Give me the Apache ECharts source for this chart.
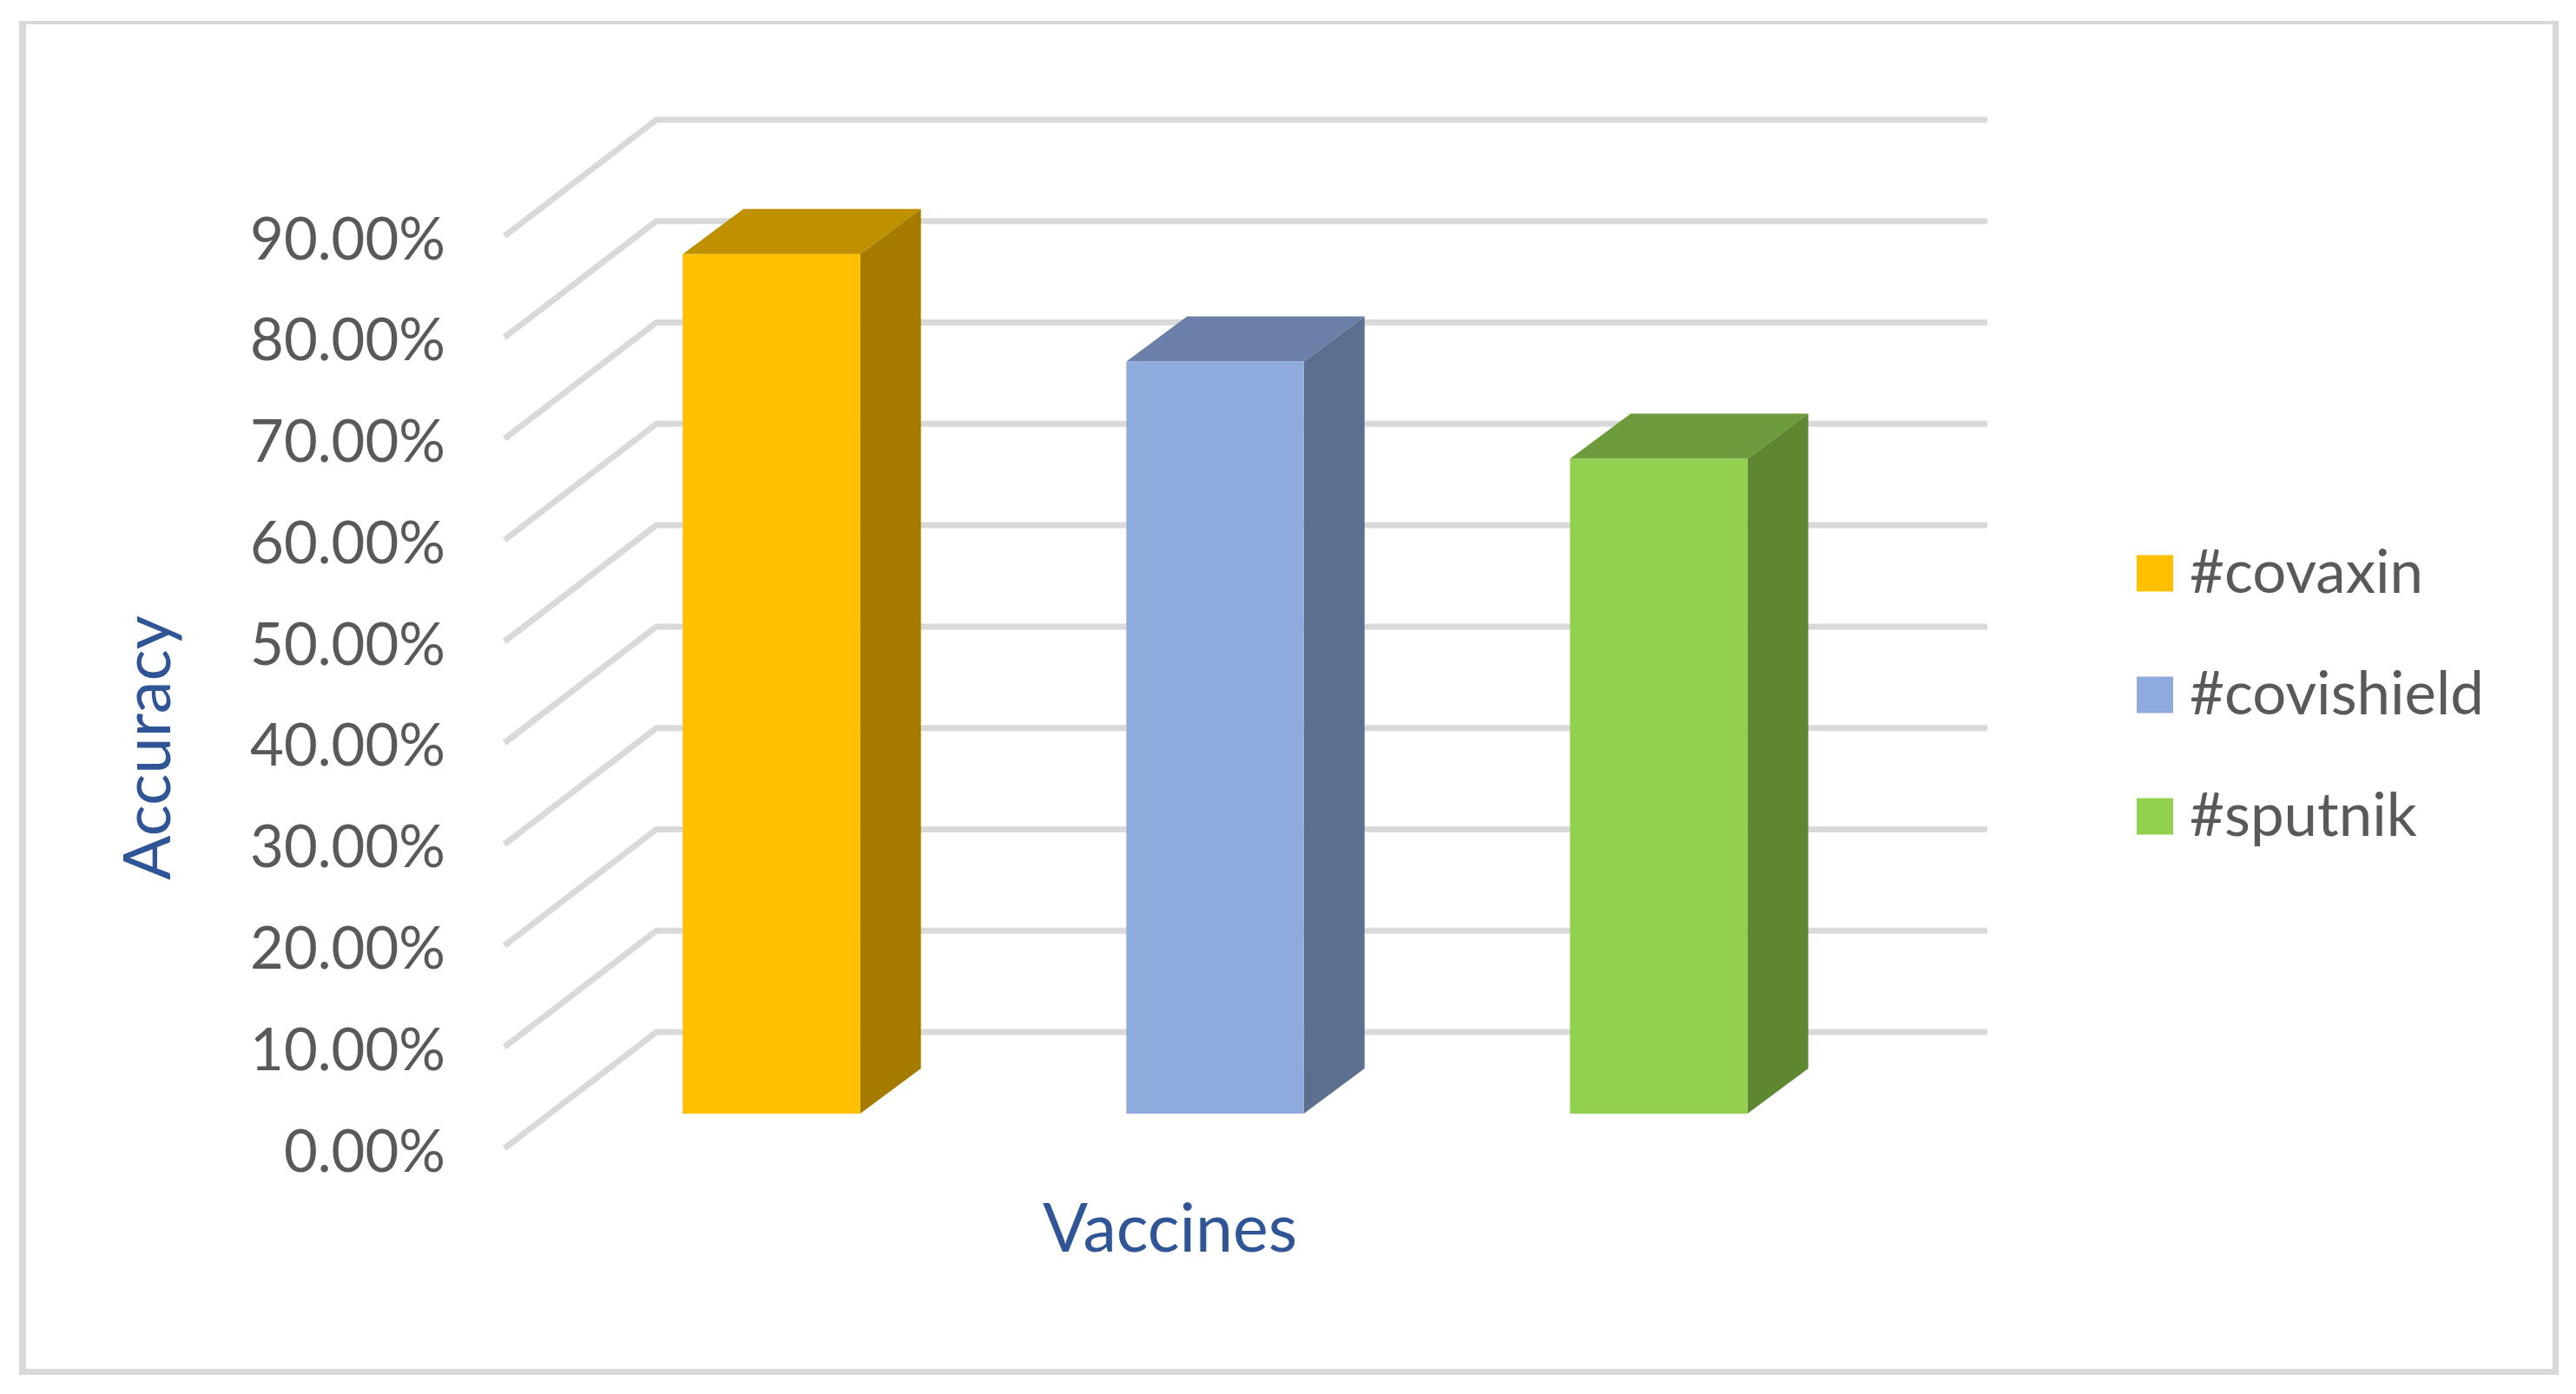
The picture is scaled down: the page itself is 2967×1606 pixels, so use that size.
<!DOCTYPE html>
<html>
<head>
<meta charset="utf-8">
<title>Accuracy of vaccines</title>
<script src="https://cdn.jsdelivr.net/npm/echarts@6/dist/echarts.min.js"></script>
<style>
  html, body { margin: 0; padding: 0; background: #fff; }
  #main { width: 2967px; height: 1606px; }
</style>
</head>
<body>
<div id="main"></div>
<script>
// data
var categories = ['Vaccines'];
var seriesNames = ['#covaxin', '#covishield', '#sputnik'];
var covaxin = [84.8];
var covishield = [74.2];
var sputnik = [64.6];
var tickValues = [0, 10, 20, 30, 40, 50, 60, 70, 80, 90];

// colours of each bar: front, side, top
var faces = [
    { front: '#ffc000', side: '#a67c00', top: '#bf9000' },
    { front: '#8faadc', side: '#5d6f8f', top: '#6b80a8' },
    { front: '#92d050', side: '#5f8732', top: '#6e9c3c' }
];

// 3d look of the excel chart, in pixels
var wallDx = 175, wallDy = 134;   // floor depth
var barFloorDx = 52, barFloorDy = 40;  // where the bars stand on the floor
var barDx = 70, barDy = 52;  // depth of a bar

var textFont = 'Lato';
var textColor = '#595959';
var titleColor = '#2f5597';
var frameColor = '#d9d9d9';

function renderGridLine(params, api) {
    var p = api.coord([0, api.value(0)]);
    var size = api.size([1, 0]);
    var x0 = p[0] - size[0] / 2;
    return {
        type: 'polyline',
        shape: {
            points: [
                [x0, p[1]],
                [x0 + wallDx, p[1] - wallDy],
                [x0 + size[0] + wallDx, p[1] - wallDy]
            ]
        },
        style: { fill: null, stroke: frameColor, lineWidth: 7 },
        silent: true
    };
}

function makeBarRender(idx) {
    return function (params, api) {
        var top = api.coord([api.value(0), api.value(1)]);
        var base = api.coord([api.value(0), 0]);
        var band = api.size([1, 0])[0];
        var w = band / 3 / 2.5;
        var cx = top[0] + (idx - 1) * band / 3 + barFloorDx;
        var l = cx - w / 2, r = cx + w / 2;
        var yt = top[1] - barFloorDy, yb = base[1] - barFloorDy;
        var c = faces[idx];
        return {
            type: 'group',
            children: [
                { type: 'polygon', shape: { points: [[r, yt], [r + barDx, yt - barDy], [r + barDx, yb - barDy], [r, yb]] }, style: { fill: c.side } },
                { type: 'polygon', shape: { points: [[l, yt], [l + barDx, yt - barDy], [r + barDx, yt - barDy], [r, yt]] }, style: { fill: c.top } },
                { type: 'rect', shape: { x: l, y: yt, width: w, height: yb - yt }, style: { fill: c.front } }
            ]
        };
    };
}

var barValues = [covaxin, covishield, sputnik];
var seriesList = [{
    name: 'gridlines',
    type: 'custom',
    renderItem: renderGridLine,
    encode: { y: 0 },
    data: tickValues.map(function (v) { return [v]; }),
    clip: false,
    silent: true,
    z: 1
}];
seriesNames.forEach(function (name, i) {
    seriesList.push({
        name: name,
        type: 'custom',
        renderItem: makeBarRender(i),
        encode: { x: 0, y: 1 },
        data: categories.map(function (c, k) { return [k, barValues[i][k]]; }),
        itemStyle: { color: faces[i].front },
        clip: false,
        z: 2
    });
});

// outer frame of the chart area
function frameBar(x, y, w, h) {
    return { type: 'rect', shape: { x: x, y: y, width: w, height: h }, style: { fill: frameColor }, silent: true };
}

var myChart = echarts.init(document.getElementById('main'));
myChart.setOption({
    animation: false,
    backgroundColor: '#ffffff',
    graphic: [
        frameBar(22, 24, 2925, 4),
        frameBar(22, 1577, 2925, 7),
        frameBar(22, 24, 8, 1560),
        frameBar(2940, 24, 7, 1560)
    ],
    grid: { left: 581, right: 853, top: 272, bottom: 283 },
    legend: {
        data: seriesNames,
        orient: 'vertical',
        left: 2456,
        top: 621,
        icon: 'rect',
        itemWidth: 42,
        itemHeight: 42,
        itemGap: 71,
        selectedMode: false,
        textStyle: { fontFamily: textFont, fontSize: 69, color: textColor, padding: [0, 0, 0, 14] }
    },
    xAxis: {
        type: 'category',
        data: categories,
        name: 'Vaccines',
        nameLocation: 'middle',
        nameGap: 56,
        nameTextStyle: { fontFamily: textFont, fontSize: 77, color: titleColor },
        axisLine: { show: false },
        axisTick: { show: false },
        axisLabel: { show: false }
    },
    yAxis: {
        type: 'value',
        min: 0,
        max: 90,
        interval: 10,
        name: 'Accuracy',
        nameLocation: 'middle',
        nameGap: 372,
        nameRotate: 90,
        nameTextStyle: { fontFamily: textFont, fontSize: 76, color: titleColor, padding: [0, 128, 0, 0] },
        axisLine: { show: false },
        axisTick: { show: false },
        splitLine: { show: false },
        axisLabel: {
            margin: 68,
            fontFamily: textFont,
            fontSize: 67,
            color: textColor,
            formatter: function (v) { return '{t|' + v.toFixed(2) + '%}'; },
            rich: { t: { fontFamily: textFont, fontSize: 67, color: textColor, padding: [10, 0, 0, 0] } }
        }
    },
    series: seriesList
});
</script>
</body>
</html>
